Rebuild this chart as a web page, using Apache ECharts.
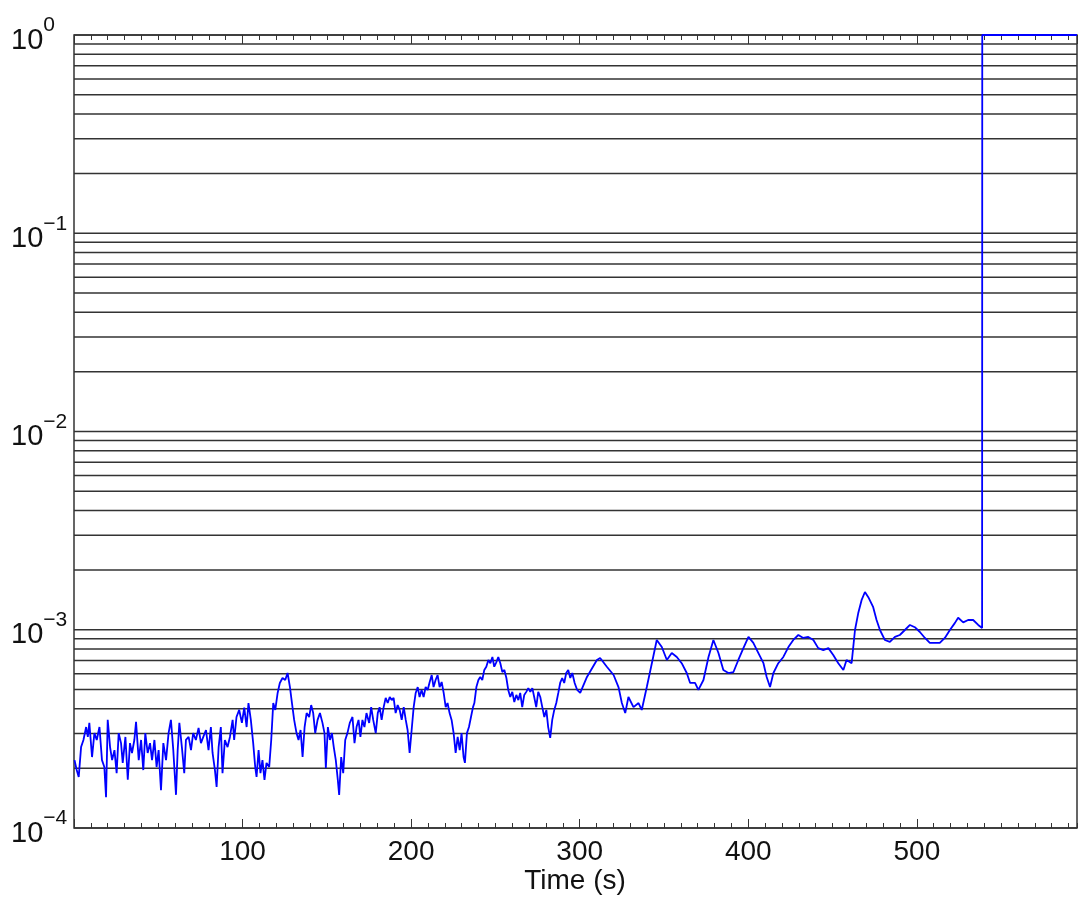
<!DOCTYPE html>
<html>
<head>
<meta charset="utf-8">
<script src="https://cdn.jsdelivr.net/npm/echarts@6/dist/echarts.min.js"></script>
<style>
  html, body { margin: 0; padding: 0; background: #fff; }
  #chart { width: 1079px; height: 904px; }
</style>
</head>
<body>
<div id="chart"></div>
<script>
var times = [
  0.3, 1.6, 2.8, 4.2, 5.6, 7.2, 8.2, 9.1, 10.7, 12.1, 13.5, 15.1, 16.6, 18.0, 19.0, 20.0,
  21.4, 22.6, 24.0, 25.3, 26.5, 27.9, 28.9, 30.5, 31.9, 33.2, 34.4, 35.8, 36.8, 38.4, 39.8,
  41.1, 42.3, 43.7, 45.1, 46.3, 47.7, 49.0, 50.2, 51.6, 53.0, 54.6, 56.1, 57.5, 58.9,
  59.5, 60.5, 61.5, 62.5, 64.0, 65.4, 66.4, 68.0, 69.4, 70.7, 72.3, 73.9, 75.3, 76.7, 78.3,
  79.8, 81.2, 82.2, 83.6, 84.6, 85.8, 87.1, 88.1, 89.5, 91.1, 92.5, 94.1, 95.0, 96.4, 98.0,
  99.6, 101.0, 102.4, 103.5, 104.9, 106.3, 107.5, 108.3, 109.5, 110.6, 111.8, 113.0, 114.2,
  115.8, 117.0, 118.2,
  119.4, 120.8, 122.1, 123.7, 125.3, 126.7, 128.1, 129.3, 130.6, 132.0, 133.2, 134.4, 135.6,
  136.8, 138.0, 139.5, 140.7, 141.9, 143.1, 144.5, 145.9, 147.4, 148.6, 149.4, 150.6, 151.8,
  153.0, 154.1, 155.3, 156.5, 157.3, 158.5, 159.7, 160.9, 162.2, 163.6, 165.2, 166.4, 167.6,
  168.8, 169.9, 171.1, 172.3, 173.5, 175.1, 176.3, 177.5,
  178.0, 179.0, 180.2, 181.3, 182.5, 183.7, 184.9, 186.1, 187.3, 188.5, 189.6, 190.8, 192.0,
  193.2, 194.4, 195.6, 196.8, 197.9, 199.1, 200.3, 201.5, 202.7, 203.9, 205.0, 206.2, 207.4,
  208.6, 209.8, 211.0, 212.2, 213.3, 214.5, 215.7, 216.9, 218.1, 219.3, 220.5, 221.6, 222.8,
  224.0, 225.2, 226.4, 227.6, 228.8, 229.9, 231.1, 231.9, 233.1, 234.3, 235.5, 236.7,
  237.5, 238.7, 239.9, 241.0, 242.2, 243.4, 244.6, 245.8, 247.0, 248.2, 249.3, 250.5, 251.7,
  252.9, 254.1, 255.3, 256.5, 257.6, 258.8, 260.0, 261.2, 262.4, 263.6, 264.7, 265.9, 267.1,
  268.3, 269.5, 270.7, 271.9, 273.0, 274.2, 275.4, 276.6, 277.8, 279.0, 280.2, 281.3, 282.5,
  283.7, 284.9, 286.1, 287.3, 288.4, 289.6, 290.8, 292.0, 293.2, 294.4, 295.6,
  297.0, 298.5, 300.3, 304.3, 310.2, 312.1, 316.1, 320.1, 323.0, 325.0, 327.0, 328.9, 331.9,
  334.9, 336.8, 339.8, 342.8, 345.7, 348.7, 351.7, 354.6, 357.6, 360.5, 363.5, 365.5, 368.4,
  370.4, 373.4, 376.4, 379.3, 382.3, 385.2, 388.2, 391.2, 394.1, 397.1, 400.1, 403.0, 406.0,
  409.0, 410.9, 412.9, 414.9, 417.8, 420.8, 423.8, 426.7, 429.7, 432.6, 435.6, 438.6, 441.5,
  444.5, 447.5, 450.4, 453.4, 456.4, 458.3, 461.3, 463.3, 465.2, 467.2, 469.2, 471.2, 474.1,
  476.1, 478.1, 481.0, 484.0, 487.0, 489.9, 492.9, 495.9, 498.8, 501.8, 504.8, 507.7, 510.7,
  513.6, 516.6, 519.6, 522.5, 524.5, 527.5, 530.4, 533.4, 536.4, 538.7,
  538.8, 595
];
var values = [
  2.20e-4, 1.96e-4, 1.81e-4, 2.56e-4, 2.78e-4, 3.23e-4, 2.88e-4, 3.39e-4, 2.28e-4, 3.01e-4,
  2.78e-4, 3.23e-4, 2.20e-4, 2.03e-4, 1.43e-4, 3.51e-4, 2.56e-4, 2.20e-4, 2.47e-4, 1.89e-4,
  3.01e-4, 2.68e-4, 2.13e-4, 2.88e-4, 1.75e-4, 2.68e-4, 2.39e-4, 2.78e-4, 3.43e-4, 2.20e-4,
  2.78e-4, 1.96e-4, 3.01e-4, 2.39e-4, 2.68e-4, 2.20e-4, 2.78e-4, 2.03e-4, 2.47e-4, 1.55e-4,
  2.68e-4, 2.20e-4, 3.01e-4, 3.51e-4, 2.47e-4,
  2.03e-4, 1.47e-4, 2.47e-4, 3.39e-4, 2.56e-4, 1.89e-4, 2.78e-4, 2.88e-4, 2.47e-4, 3.01e-4,
  2.78e-4, 3.20e-4, 2.68e-4, 2.88e-4, 3.12e-4, 2.47e-4, 3.23e-4, 2.39e-4, 1.96e-4, 1.61e-4,
  2.56e-4, 3.23e-4, 1.89e-4, 2.78e-4, 2.56e-4, 2.88e-4, 3.51e-4, 2.78e-4, 3.63e-4, 3.94e-4,
  3.39e-4, 4.05e-4, 3.23e-4, 4.27e-4, 3.51e-4, 2.68e-4, 2.03e-4, 1.81e-4, 2.47e-4, 1.89e-4,
  2.20e-4, 1.75e-4, 2.13e-4, 2.03e-4, 2.78e-4, 4.27e-4,
  3.94e-4, 4.80e-4, 5.39e-4, 5.71e-4, 5.58e-4, 6.05e-4, 5.14e-4, 4.27e-4, 3.51e-4, 3.01e-4,
  2.78e-4, 3.12e-4, 2.28e-4, 3.23e-4, 3.80e-4, 3.63e-4, 4.17e-4, 3.80e-4, 3.01e-4, 3.51e-4,
  3.80e-4, 3.39e-4, 3.01e-4, 2.01e-4, 3.23e-4, 2.78e-4, 3.01e-4, 2.56e-4, 2.20e-4, 1.75e-4,
  1.47e-4, 2.28e-4, 1.89e-4, 2.78e-4, 3.01e-4, 3.39e-4, 3.63e-4, 2.68e-4, 3.23e-4, 3.51e-4,
  2.88e-4, 3.51e-4, 3.23e-4, 3.80e-4, 3.39e-4, 4.07e-4, 3.51e-4,
  3.51e-4, 3.01e-4, 3.80e-4, 4.07e-4, 3.51e-4, 4.07e-4, 4.53e-4, 4.27e-4, 4.58e-4, 4.42e-4,
  4.53e-4, 3.80e-4, 4.17e-4, 3.94e-4, 3.51e-4, 4.07e-4, 3.51e-4, 3.12e-4, 2.39e-4, 3.12e-4,
  4.07e-4, 4.80e-4, 5.14e-4, 4.58e-4, 4.97e-4, 4.58e-4, 5.14e-4, 4.97e-4, 5.45e-4, 5.91e-4,
  5.14e-4, 5.58e-4, 5.91e-4, 5.14e-4, 5.45e-4, 4.80e-4, 4.07e-4, 4.27e-4, 3.80e-4, 3.51e-4,
  3.01e-4, 2.39e-4, 2.88e-4, 2.47e-4, 3.01e-4, 2.28e-4, 2.13e-4, 3.01e-4, 3.23e-4, 3.63e-4,
  4.07e-4,
  4.27e-4, 5.14e-4, 5.58e-4, 5.78e-4, 5.58e-4, 6.27e-4, 6.51e-4, 7.04e-4, 6.78e-4, 7.29e-4,
  6.51e-4, 6.85e-4, 7.29e-4, 6.78e-4, 6.12e-4, 6.27e-4, 5.71e-4, 4.97e-4, 4.58e-4, 4.86e-4,
  4.32e-4, 4.69e-4, 4.42e-4, 4.80e-4, 4.07e-4, 4.69e-4, 4.86e-4, 5.08e-4, 4.86e-4, 5.08e-4,
  4.58e-4, 4.07e-4, 4.86e-4, 4.58e-4, 4.07e-4, 3.63e-4, 3.94e-4, 3.23e-4, 2.85e-4, 3.51e-4,
  3.94e-4, 4.27e-4, 4.80e-4, 5.39e-4, 5.71e-4, 5.39e-4, 6.05e-4, 6.27e-4, 5.71e-4, 6.05e-4,
  5.39e-4, 4.97e-4, 4.80e-4, 5.78e-4, 7.04e-4, 7.20e-4, 6.51e-4, 5.91e-4, 5.14e-4, 4.27e-4,
  3.80e-4, 4.58e-4, 4.07e-4, 4.27e-4, 3.94e-4, 5.14e-4, 6.78e-4, 8.88e-4, 8.18e-4, 7.04e-4,
  7.63e-4, 7.29e-4, 6.78e-4, 6.05e-4, 5.39e-4, 5.39e-4, 4.97e-4, 5.58e-4, 7.29e-4, 8.88e-4,
  7.63e-4, 6.27e-4, 6.05e-4, 6.12e-4, 7.04e-4, 8.08e-4, 9.20e-4, 8.58e-4, 7.63e-4, 6.78e-4,
  5.78e-4, 5.14e-4, 6.05e-4, 6.78e-4, 7.29e-4, 8.18e-4, 8.88e-4, 9.41e-4, 9.09e-4, 9.20e-4,
  8.88e-4, 8.08e-4, 7.90e-4, 8.08e-4, 7.46e-4, 6.78e-4, 6.27e-4, 7.04e-4, 6.78e-4, 9.97e-4,
  1.21e-3, 1.41e-3, 1.55e-3, 1.46e-3, 1.30e-3, 1.12e-3, 9.97e-4, 8.88e-4, 8.68e-4, 9.20e-4,
  9.41e-4, 9.97e-4, 1.057e-3, 1.03e-3, 9.74e-4, 9.09e-4, 8.58e-4, 8.58e-4, 8.58e-4, 9.09e-4,
  9.97e-4, 1.08e-3, 1.15e-3, 1.09e-3, 1.12e-3, 1.12e-3, 1.057e-3, 1.02e-3,
  1, 1
];

// horizontal reference lines: every 1..9 x decade
var decades = [-4, -3, -2, -1];
var multipliers = [1, 2, 3, 4, 5, 6, 7, 8, 9];

var gridValues = [];
decades.forEach(function (e) {
    multipliers.forEach(function (m) {
        gridValues.push(Number((m * Math.pow(10, e)).toPrecision(3)));
    });
});
gridValues.push(1);

var seriesData = times.map(function (t, i) { return [t, values[i]]; });

var fontFamily = "'Liberation Sans', Arial, Helvetica, sans-serif";
var textColor = '#111';
var lineColor = '#333';

var myChart = echarts.init(document.getElementById('chart'));

function xAxisDef(position, interval, tickLen, withLabels) {
    return {
        type: 'value',
        position: position,
        min: 0,
        max: 595,
        interval: interval,
        axisLine: { show: false },
        axisTick: { show: true, inside: true, length: tickLen, lineStyle: { color: lineColor, width: 1 } },
        axisLabel: withLabels ? {
            show: true,
            margin: 10,
            color: textColor,
            fontFamily: fontFamily,
            fontSize: 28,
            showMaxLabel: false,
            formatter: function (v) { return (v > 0 && v % 100 === 0) ? String(v) : ''; }
        } : { show: false },
        splitLine: { show: false }
    };
}

var option = {
    backgroundColor: '#fff',
    animation: false,
    // x axis title, centred under the plot area
    title: {
        text: 'Time (s)',
        left: 575,
        top: 867,
        textAlign: 'center',
        padding: 0,
        textStyle: { color: textColor, fontFamily: fontFamily, fontSize: 28, fontWeight: 'normal' }
    },
    grid: {
        left: 74, top: 35, width: 1003, height: 793,
        show: true, borderColor: lineColor, borderWidth: 1.5, backgroundColor: 'transparent'
    },
    xAxis: [
        xAxisDef('bottom', 100, 9, true),
        xAxisDef('bottom', 10, 5, false),
        xAxisDef('top', 100, 9, false),
        xAxisDef('top', 10, 5, false)
    ],
    yAxis: {
        type: 'log',
        logBase: 10,
        min: 1e-4,
        max: 1,
        axisLine: { show: false },
        axisTick: { show: false },
        splitLine: { show: false },
        axisLabel: {
            margin: 63,
            align: 'left',
            color: textColor,
            fontFamily: fontFamily,
            formatter: function (v) {
                var e = Math.round(Math.log10(v));
                return '{b|10}{s|' + (e < 0 ? '\u2212' + (-e) : String(e)) + '}';
            },
            rich: {
                b: { fontSize: 29, lineHeight: 40, verticalAlign: 'bottom', color: textColor, fontFamily: fontFamily },
                s: { fontSize: 21, lineHeight: 20, verticalAlign: 'top', color: textColor, fontFamily: fontFamily }
            }
        }
    },
    series: [
        {
            // horizontal grid lines at 1..9 x 10^n, placed through the y scale
            type: 'custom',
            xAxisIndex: 0,
            silent: true,
            z: 1,
            clip: false,
            encode: { x: 0, y: 1 },
            data: gridValues.map(function (v) { return [0, v]; }),
            renderItem: function (params, api) {
                var cs = params.coordSys;
                var y = api.coord([0, api.value(1)])[1];
                return {
                    type: 'line',
                    shape: { x1: cs.x, y1: y, x2: cs.x + cs.width, y2: y },
                    style: { stroke: lineColor, lineWidth: 1.5 }
                };
            }
        },
        {
            type: 'line',
            xAxisIndex: 0,
            data: seriesData,
            z: 3,
            showSymbol: false,
            symbol: 'none',
            lineStyle: { color: '#0000ff', width: 1.8 },
            itemStyle: { color: '#0000ff' }
        }
    ]
};

myChart.setOption(option);

window.addEventListener('resize', function () {
    myChart.resize();
});
</script>
</body>
</html>
